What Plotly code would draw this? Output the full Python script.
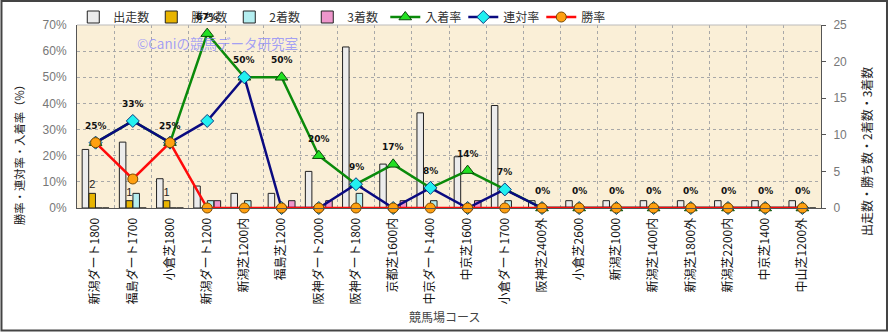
import plotly.graph_objects as go

categories = ["新潟ダート1800", "福島ダート1700", "小倉芝1800", "新潟ダート1200", "新潟芝1200内",
              "福島芝1200", "阪神ダート2000", "阪神ダート1800", "京都芝1600内", "中京ダート1400",
              "中京芝1600", "小倉ダート1700", "阪神芝2400外", "小倉芝2600", "新潟芝1000",
              "新潟芝1400内", "新潟芝1800外", "新潟芝2200内", "中京芝1400", "中山芝1200外"]
runs = [8, 9, 4, 3, 2, 2, 5, 22, 6, 13, 7, 14, 1, 1, 1, 1, 1, 1, 1, 1]
wins = [2, 1, 1, 0, 0, 0, 0, 0, 0, 0, 0, 0, 0, 0, 0, 0, 0, 0, 0, 0]
seconds = [0, 2, 0, 1, 1, 0, 0, 2, 0, 1, 0, 1, 0, 0, 0, 0, 0, 0, 0, 0]
thirds = [0, 0, 0, 1, 0, 1, 1, 0, 1, 0, 1, 0, 0, 0, 0, 0, 0, 0, 0, 0]
place_rate = [25, 33.3, 25, 66.7, 50, 50, 20, 9.1, 16.7, 7.7, 14.3, 7.1, 0, 0, 0, 0, 0, 0, 0, 0]
quinella_rate = [25, 33.3, 25, 33.3, 50, 0, 0, 9.1, 0, 7.7, 0, 7.1, 0, 0, 0, 0, 0, 0, 0, 0]
win_rate = [25, 11.1, 25, 0, 0, 0, 0, 0, 0, 0, 0, 0, 0, 0, 0, 0, 0, 0, 0, 0]
place_labels = ["25%", "33%", "25%", "67%", "50%", "50%", "20%", "9%", "17%", "8%", "14%", "7%",
                "0%", "0%", "0%", "0%", "0%", "0%", "0%", "0%"]
win_labels = ["2", "1", "1"] + [""] * 17

JP = "Noto Sans CJK JP"
fig = go.Figure()

bar_specs = [
    ("出走数", runs, "#ECECEC"),
    ("勝ち数", wins, "#E8B400"),
    ("2着数", seconds, "#B4EEF0"),
    ("3着数", thirds, "#EE96CC"),
]
for name, vals, col in bar_specs:
    kw = {}
    if name == "勝ち数":
        kw = dict(text=win_labels, textposition="outside",
                  textfont=dict(family="Liberation Sans", size=11, color="#222"),
                  cliponaxis=False)
    fig.add_trace(go.Bar(x=categories, y=vals, name=name, yaxis="y",
                         marker=dict(color=col, line=dict(color="#222", width=1)), **kw))

fig.add_trace(go.Scatter(x=categories, y=place_rate, name="入着率", yaxis="y2", mode="lines+markers",
                         line=dict(color="#0A8A0A", width=2.5),
                         marker=dict(symbol="triangle-up", size=11, color="#22E022",
                                     line=dict(color="#0A4A0A", width=1)), cliponaxis=False))
fig.add_trace(go.Scatter(x=categories, y=quinella_rate, name="連対率", yaxis="y2", mode="lines+markers",
                         line=dict(color="#0A0A80", width=2.5),
                         marker=dict(symbol="diamond", size=10, color="#22F0F0",
                                     line=dict(color="#0A3A80", width=1)), cliponaxis=False))
fig.add_trace(go.Scatter(x=categories, y=win_rate, name="勝率", yaxis="y2", mode="lines+markers",
                         line=dict(color="#FF0A0A", width=2.5),
                         marker=dict(symbol="circle", size=10, color="#FFA010",
                                     line=dict(color="#7A4A00", width=1)), cliponaxis=False))

annotations = []
for c, v, t in zip(categories, place_rate, place_labels):
    annotations.append(dict(x=c, y=v, xref="x", yref="y2", text="<b>" + t + "</b>", showarrow=False,
                            yshift=17, font=dict(family="DejaVu Sans", size=9, color="#111")))
annotations += [
    dict(x=0.1895, y=0.9016, xref="paper", yref="paper", text="©Caniの競馬データ研究室", showarrow=False,
         xanchor="center", yanchor="middle",
         font=dict(family=JP, size=13.5, color="rgba(125,125,255,0.7)")),
    dict(x=-0.078, y=0.306, xref="paper", yref="paper", text="勝率・連対率・入着率（%）", showarrow=False,
         xanchor="center", yanchor="middle",
         textangle=-90, font=dict(family=JP, size=11.3, color="#222")),
    dict(x=1.0605, y=0.306, xref="paper", yref="paper", text="出走数・勝ち数・2着数・3着数", showarrow=False,
         xanchor="center", yanchor="middle",
         textangle=-90, font=dict(family=JP, size=12, color="#222")),
    dict(x=0.4946, y=-0.5956, xref="paper", yref="paper", text="競馬場コース", showarrow=False,
         xanchor="center", yanchor="middle",
         font=dict(family=JP, size=12, color="#444")),
]

fig.update_layout(
    width=889, height=332,
    margin=dict(l=77, r=68, t=25, b=124, autoexpand=False),
    paper_bgcolor="white", plot_bgcolor="#FAEFD7",
    barmode="group", bargap=0.27, bargroupgap=0.04,
    showlegend=True,
    legend=dict(orientation="h", x=-0.005, y=1.0437, xanchor="left", yanchor="middle",
                entrywidth=33, entrywidthmode="pixels", itemwidth=30,
                font=dict(family=JP, size=12, color="#333"), bgcolor="rgba(0,0,0,0)"),
    xaxis=dict(type="category", tickson="boundaries", showgrid=True, gridcolor="#A8A8A8",
               griddash="dot", gridwidth=1, tickangle=-90, ticks="", ticklabelstandoff=4,
               tickfont=dict(family=JP, size=12, color="#111"),
               showline=True, linecolor="#555", linewidth=1, range=[-0.5, 19.5]),
    yaxis=dict(side="right", range=[0, 25], dtick=5, ticks="outside", ticklen=4, tickcolor="#555",
               ticklabelstandoff=5,
               showgrid=False, zeroline=False, showline=True, linecolor="#555",
               tickfont=dict(family="Liberation Sans", size=12, color="#777")),
    yaxis2=dict(side="left", overlaying="y", range=[0, 70], dtick=10, ticksuffix="%", ticks="",
                ticklabelstandoff=7,
                showgrid=True, gridcolor="#A8A8A8", griddash="dot", zeroline=False,
                showline=True, linecolor="#555",
                tickfont=dict(family="Liberation Sans", size=12, color="#777")),
    annotations=annotations,
    shapes=[
        dict(type="line", xref="paper", yref="paper", x0=0, x1=1, y0=1, y1=1,
             line=dict(color="#BBBBBB", width=1)),
        dict(type="rect", xref="paper", yref="paper", x0=-0.1015, x1=1.0887, y0=-0.6694, y1=1.1311,
             line=dict(color="#444", width=2)),
    ],
)

fig.write_html("out.html")
